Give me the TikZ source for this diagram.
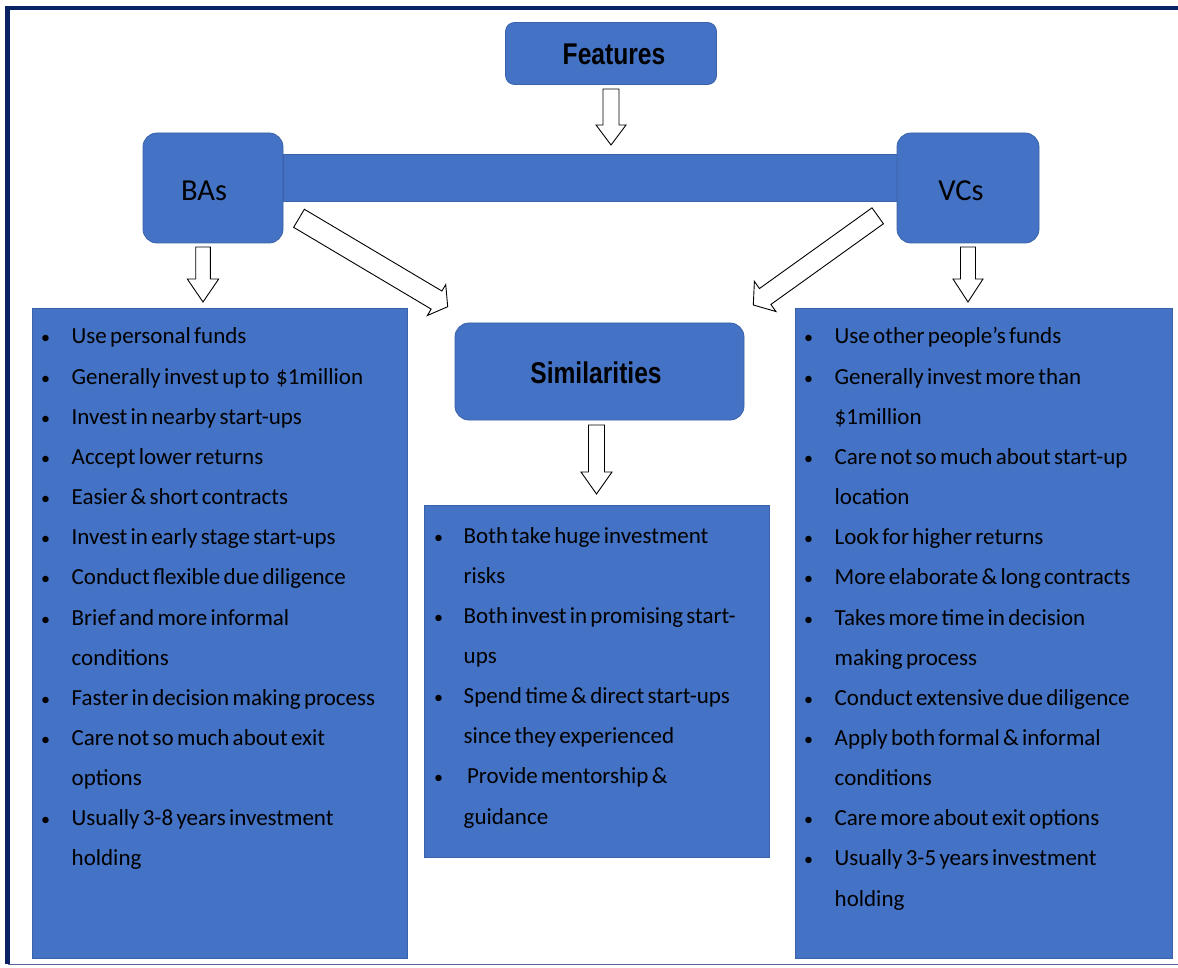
\documentclass[tikz,border=0pt]{standalone}
\usepackage{fontspec}
\setmainfont{Carlito}
\newfontfamily\headfont[FakeStretch=0.82]{Liberation Sans}
\usetikzlibrary{calc}
\definecolor{boxblue}{HTML}{4472C4}
\definecolor{boxedge}{HTML}{3A62AA}
\definecolor{framenavy}{HTML}{0A2164}
\definecolor{framelow}{HTML}{56649A}
\newlength\bhang
\newcommand\bfirst[1]{\noindent\hangindent=\bhang\hangafter=1\makebox[\bhang][l]{{\fontsize{18pt}{18pt}\selectfont •}}#1}
\newcommand\bl[1]{\par\bfirst{#1}}
\newcommand\nl{\hfil\break}
\newcommand\listfont{\fontsize{23pt}{40.15pt}\selectfont\hyphenpenalty=10000\rightskip=0pt plus 1fil\parfillskip=0pt plus 1fil}
\newcommand\blockarrow[5]{%
  \path ($(#2)!#5!(#1)$) coordinate (hb);
  \draw[barrow] ($(#1)!#3!90:(#2)$) -- ($(hb)!#3!90:(#2)$) -- ($(hb)!#4!90:(#2)$) -- (#2)
    -- ($(hb)!#4!-90:(#2)$) -- ($(hb)!#3!-90:(#2)$) -- ($(#1)!#3!-90:(#2)$) -- cycle;}
\begin{document}
\begin{tikzpicture}[x=1pt,y=-1pt,
  roundbox/.style={draw=boxedge, line width=0.8pt, fill=boxblue, rounded corners=#1, inner sep=0pt},
  roundbox/.default=14pt,
  listbox/.style={draw=boxedge, line width=0.8pt, fill=boxblue, inner sep=0pt},
  listtext/.style={anchor=base west, inner sep=0pt, text width=#1},
  headlbl/.style={anchor=base, inner sep=0pt, font=\headfont\bfseries\fontsize{30pt}{36pt}\selectfont},
  sidelbl/.style={anchor=base, inner sep=0pt, font=\fontsize{30.5pt}{36pt}\selectfont},
  barrow/.style={draw=black, fill=white, line width=0.9pt, line join=miter}]
\useasboundingbox (0,0) rectangle (1178,968);
\fill[white] (0,0) rectangle (1178,968);
% frame
\draw[framenavy, line width=4.5pt] (1200,8) -- (7.5,8) -- (7.5,964);
\draw[framelow, line width=1.6pt] (7.5,964.5) -- (1200,964.5);
% bar between BAs and VCs
\node[listbox, minimum width=614pt, minimum height=47pt] (bar) at (590,177.5) {};
% boxes
\node[roundbox=9pt, minimum width=211pt, minimum height=62pt] (feat) at (611,53.5) {};
\node[headlbl] (featlbl) at (614,65) {Features};
\node[roundbox, minimum width=140pt, minimum height=110pt] (bas) at (213,188) {};
\node[sidelbl] (baslbl) at (204,201) {BAs};
\node[roundbox, minimum width=142pt, minimum height=110pt] (vcs) at (968,188) {};
\node[sidelbl] (vcslbl) at (961,201) {VCs};
\node[roundbox, minimum width=289pt, minimum height=97pt] (sim) at (599.5,371.5) {};
\node[headlbl] (simlbl) at (596,383) {Similarities};
% list boxes
\node[listbox, minimum width=375pt, minimum height=650pt] (left) at (219.5,633) {};
\node[listbox, minimum width=377pt, minimum height=650pt] (right) at (983.5,633) {};
\node[listbox, minimum width=345pt, minimum height=352pt] (mid) at (596.5,681) {};
% list texts
\node[listtext=366pt] (lefttxt) at (41,344) {\listfont\setlength\bhang{30.5pt}%
\bfirst{Use personal funds}%
\bl{Generally invest up to~~\$1million}%
\bl{Invest in nearby start-ups}%
\bl{Accept lower returns}%
\bl{Easier \& short contracts}%
\bl{Invest in early stage start-ups}%
\bl{Conduct flexible due diligence}%
\bl{Brief and more informal\nl conditions}%
\bl{Faster in decision making process}%
\bl{Care not so much about exit\nl options}%
\bl{Usually 3-8 years investment\nl holding}\par};
\node[listtext=335pt] (midtxt) at (434,543) {\listfont\setlength\bhang{29.5pt}%
\bfirst{Both take huge investment\nl risks}%
\bl{Both invest in promising start-\nl ups}%
\bl{Spend time \& direct start-ups\nl since they experienced}%
\bl{\ Provide mentorship \&\nl guidance}\par};
\node[listtext=368pt] (righttxt) at (804,344) {\listfont\setlength\bhang{30.5pt}%
\bfirst{Use other people’s funds}%
\bl{Generally invest more than\nl \$1million}%
\bl{Care not so much about start-up\nl location}%
\bl{Look for higher returns}%
\bl{More elaborate \& long contracts}%
\bl{Takes more time in decision\nl making process}%
\bl{Conduct extensive due diligence}%
\bl{Apply both formal \& informal\nl conditions}%
\bl{Care more about exit options}%
\bl{Usually 3-5 years investment\nl holding}\par};
% arrow ends
\coordinate (fa1) at (611,89);   \coordinate (fa2) at (611,145);
\coordinate (ba1) at (203,247);  \coordinate (ba2) at (203,302);
\coordinate (va1) at (968,247);  \coordinate (va2) at (968,302);
\coordinate (sa1) at (596.5,425); \coordinate (sa2) at (596.5,494);
\coordinate (la1) at (299,218.3); \coordinate (la2) at (447.7,306.7);
\coordinate (ra1) at (877.7,215.8); \coordinate (ra2) at (753.3,305);
% block arrows
\blockarrow{fa1}{fa2}{8pt}{15pt}{20pt}
\blockarrow{ba1}{ba2}{7.3pt}{15.7pt}{23pt}
\blockarrow{va1}{va2}{7.5pt}{15pt}{23pt}
\blockarrow{sa1}{sa2}{8pt}{15.5pt}{22pt}
\blockarrow{la1}{la2}{10.5pt}{18pt}{13pt}
\blockarrow{ra1}{ra2}{9.8pt}{18.5pt}{14.6pt}
\end{tikzpicture}
\end{document}
